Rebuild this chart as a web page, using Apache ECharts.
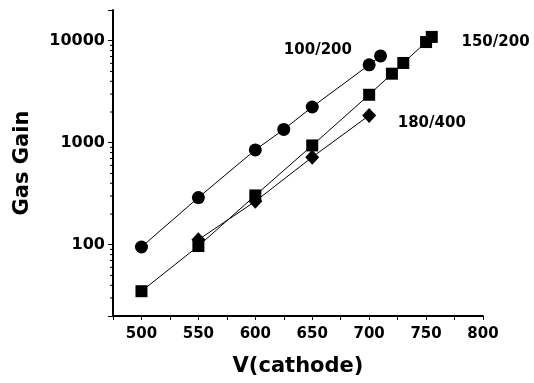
<!DOCTYPE html>
<html><head><meta charset="utf-8">
<script src="https://cdn.jsdelivr.net/npm/echarts@6/dist/echarts.min.js"></script>
<style>html,body{margin:0;padding:0;background:#fff}#c{width:534px;height:383px}</style>
</head><body><div id="c"></div>
<script>
// ---- data ----
const circleX = [500, 550, 600, 625, 650, 700, 710];
const circleY = [95, 290, 850, 1350, 2240, 5800, 7100];
const squareX = [500, 550, 600, 650, 700, 720, 730, 750, 755];
const squareY = [35, 97, 304, 940, 2950, 4750, 6050, 9700, 10900];
const diamondX = [550, 600, 650, 700];
const diamondY = [112, 266, 722, 1850];
const seriesLabels = ['100/200', '150/200', '180/400'];
const labelX = [655, 811, 755];
const labelY = [8160, 9780, 1557];
const yMajorLabels = [100, 1000, 10000];
const yMinorTicks = [30,40,50,60,70,80,90,200,300,400,500,600,700,800,900,2000,3000,4000,5000,6000,7000,8000,9000];
const xMin = 475, xMax = 800, yMin = 20, yMax = 20000;

const font = 'DejaVu Sans, Verdana, sans-serif';
function pts(xs, ys){ return xs.map((x,i)=>[x, ys[i]]); }
const common = {type: 'line', lineStyle: {color: '#000', width: 1}, itemStyle: {color: '#000'}, animation: false, z: 3, silent: true};

const chart = echarts.init(document.getElementById('c'), null, {renderer: 'canvas'});
chart.setOption({
  animation: false,
  backgroundColor: '#fff',
  grid: {left: 113, top: 10, right: 51, bottom: 67, containLabel: false},
  xAxis: {
    type: 'value', min: xMin, max: xMax, interval: 25,
    name: 'V(cathode)', nameLocation: 'middle', nameGap: 40,
    nameTextStyle: {color: '#000', fontFamily: font, fontWeight: 'bold', fontSize: 21},
    axisLine: {show: true, onZero: false, lineStyle: {color: '#000', width: 2}},
    axisTick: {show: true, length: 4, lineStyle: {color: '#000', width: 1}},
    axisLabel: {color: '#000', fontFamily: font, fontWeight: 'bold', fontSize: 15, margin: 11,
      formatter: v => (v % 50 === 0 ? String(v) : '')},
    splitLine: {show: false}
  },
  yAxis: {
    type: 'log', logBase: 10, min: yMin, max: yMax,
    name: 'Gas Gain', nameLocation: 'middle', nameGap: 80, nameRotate: 90,
    nameTextStyle: {color: '#000', fontFamily: font, fontWeight: 'bold', fontSize: 21},
    axisLine: {show: true, lineStyle: {color: '#000', width: 2}},
    axisTick: {show: true, length: 5, lineStyle: {color: '#000', width: 1}},
    axisLabel: {color: '#000', fontFamily: font, fontWeight: 'bold', fontSize: 16, margin: 8,
      formatter: v => (yMajorLabels.indexOf(Math.round(v)) >= 0 ? String(Math.round(v)) : '')},
    splitLine: {show: false}
  },
  series: [
    Object.assign({}, common, {name: seriesLabels[0], symbol: 'circle', symbolSize: 13, data: pts(circleX, circleY)}),
    Object.assign({}, common, {name: seriesLabels[1], symbol: 'rect', symbolSize: 12, data: pts(squareX, squareY)}),
    Object.assign({}, common, {name: seriesLabels[2], symbol: 'diamond', symbolSize: [14, 15], data: pts(diamondX, diamondY)}),
    {
      type: 'scatter', silent: true, clip: false, animation: false, z: 5,
      symbol: 'circle', symbolSize: 0, itemStyle: {color: '#000', opacity: 1},
      label: {show: true, position: 'inside', color: '#000', opacity: 1, textBorderWidth: 0,
        fontFamily: font, fontWeight: 'bold', fontSize: 15,
        formatter: p => seriesLabels[p.dataIndex]},
      data: pts(labelX, labelY)
    },
    {
      type: 'custom', silent: true, clip: false, animation: false,
      data: yMinorTicks.map(v => [xMin, v]),
      encode: {x: 0, y: 1},
      renderItem: function(params, api){
        const p = api.coord([api.value(0), api.value(1)]);
        return {type: 'line', shape: {x1: p[0] - 3, y1: p[1], x2: p[0], y2: p[1]}, style: {stroke: '#000', lineWidth: 1}};
      }
    }
  ]
});
</script>
</body></html>
